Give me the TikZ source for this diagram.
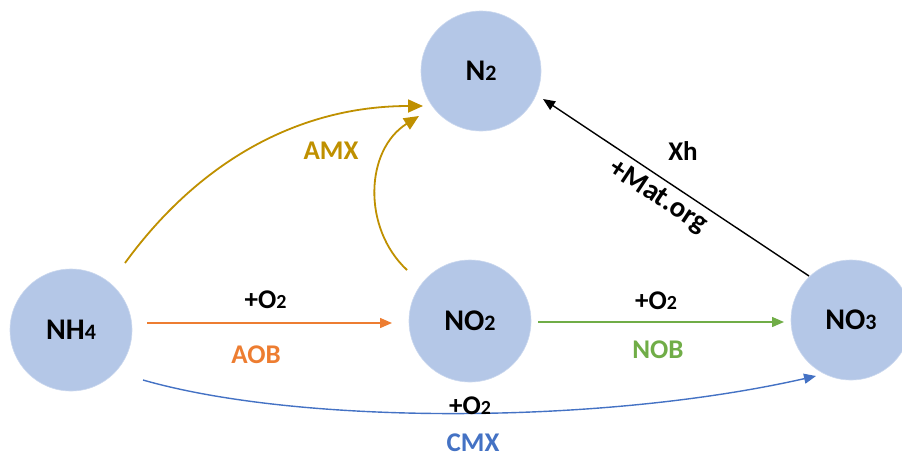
\documentclass[tikz,border=0pt]{standalone}
\usepackage{fontspec}
\setmainfont{Carlito}
\usetikzlibrary{arrows.meta}
\definecolor{cfill}{HTML}{B4C7E7}
\definecolor{corange}{HTML}{ED7D31}
\definecolor{cgreen}{HTML}{70AD47}
\definecolor{cblue}{HTML}{4472C4}
\definecolor{cgold}{HTML}{BF9000}
\newcommand{\spbig}[1]{{\fontsize{30pt}{32pt}\selectfont\bfseries #1}}
\newcommand{\spsub}[1]{{\fontsize{22pt}{24pt}\selectfont\bfseries #1}}
\newcommand{\lab}[1]{{\fontsize{27pt}{29pt}\selectfont\bfseries #1}}
\newcommand{\slab}[1]{{\fontsize{20pt}{22pt}\selectfont\bfseries #1}}
\begin{document}
\begin{tikzpicture}[x=1pt,y=-1pt,
  species/.style={circle,fill=cfill,draw=cfill!70!white,line width=0.6pt,inner sep=0pt},
  conn/.style={line width=1.4pt,-{Triangle[length=12pt,width=10pt]}},
  amx/.style={line width=1.8pt,draw=cgold,-{Triangle[length=15pt,width=13pt]}},
  lbl/.style={anchor=base,inner sep=0pt}]
\useasboundingbox (0,0) rectangle (902,456);
% species
\node[species,minimum size=120pt] (n2) at (481,71) {\spbig{N}\spsub{2}};
\node[species,minimum size=122pt] (nh4) at (71,330) {\spbig{NH}\spsub{4}};
\node[species,minimum size=122pt] (no2) at (470,321) {\spbig{NO}\spsub{2}};
\node[species,minimum size=120pt] (no3) at (851,320) {\spbig{NO}\spsub{3}};
% connector end points
\coordinate (aobS) at (147,323);
\coordinate (aobE) at (392,323);
\coordinate (nobS) at (538,322);
\coordinate (nobE) at (784,322);
\coordinate (cmxS) at (143,380);
\coordinate (cmxE) at (816,376);
\coordinate (amxS) at (125,263);
\coordinate (amxE) at (423,106);
\coordinate (amx2S) at (407,270);
\coordinate (amx2E) at (419,116);
\coordinate (xhS) at (809,276);
\coordinate (xhE) at (543,99);
% connectors
\draw[conn,draw=corange,fill=corange] (aobS) -- (aobE);
\draw[conn,draw=cgreen,fill=cgreen] (nobS) -- (nobE);
\draw[conn,draw=cblue] (cmxS) .. controls (300,425) and (600,425) .. (cmxE);
\draw[amx] (amxS) .. controls (200,160) and (300,106) .. (amxE);
\draw[amx] (amx2S) .. controls (362,228) and (365,150) .. (amx2E);
\draw[conn,draw=black] (xhS) -- (xhE);
% labels
\node[lbl] (t1) at (265.5,308) {\lab{+O}\slab{2}};
\node[lbl,text=corange] (t2) at (256,363) {\lab{AOB}};
\node[lbl] (t3) at (656,309) {\lab{+O}\slab{2}};
\node[lbl,text=cgreen] (t4) at (658,358) {\lab{NOB}};
\node[lbl] (t5) at (470,414) {\lab{+O}\slab{2}};
\node[lbl,text=cblue] (t6) at (473,451) {\lab{CMX}};
\node[lbl,text=cgold] (t7) at (331,159) {\lab{AMX}};
\node[lbl] (t8) at (683,160) {\lab{Xh}};
\node[inner sep=0pt,rotate=-33.5] (t9) at (658,197) {{\fontsize{29pt}{31pt}\selectfont\bfseries +Mat.org}};
\end{tikzpicture}
\end{document}
